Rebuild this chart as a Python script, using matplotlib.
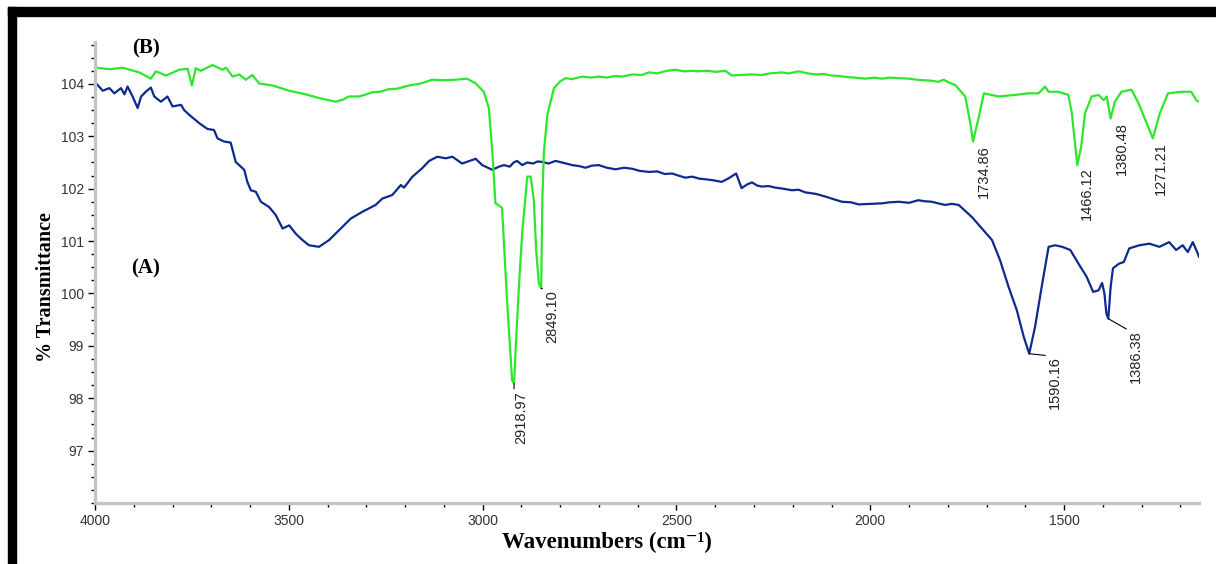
import matplotlib
matplotlib.use("Agg")
import matplotlib.pyplot as plt
from matplotlib.patches import Rectangle
from matplotlib.ticker import MultipleLocator

# sample (B): wavenumber / %T
wn_b = [4000, 3997, 3960, 3929, 3886, 3856, 3843, 3817, 3783, 3761, 3750, 3740,
        3727, 3697, 3671, 3662, 3645, 3628, 3611, 3594, 3577, 3542, 3499, 3456,
        3422, 3379, 3360, 3345, 3320, 3300, 3285, 3265, 3242, 3220, 3190, 3165,
        3150, 3130, 3100, 3070, 3040, 3018, 2997, 2984,
        2975, 2967, 2958, 2950, 2945, 2937, 2928, 2924, 2919, 2915, 2906, 2898,
        2885, 2876, 2868, 2862, 2855, 2849, 2846, 2842, 2833, 2816, 2800, 2786,
        2770, 2743, 2720, 2700, 2680, 2660, 2640, 2614, 2590, 2571, 2550, 2525,
        2503, 2480, 2460, 2443, 2420, 2400, 2374, 2357, 2340, 2305, 2280, 2260,
        2228, 2210, 2185, 2160, 2140, 2120, 2099, 2080, 2060, 2040, 2013, 1990,
        1970, 1950, 1927, 1900, 1880, 1860, 1841, 1825, 1811, 1795, 1781,
        1755, 1742, 1735, 1720, 1707, 1669, 1626, 1592,
        1566, 1549, 1540, 1515, 1489, 1480, 1471, 1466, 1456, 1446, 1429, 1411,
        1398, 1390, 1380, 1369, 1352, 1326, 1308, 1287, 1271, 1253, 1232, 1198,
        1172, 1159, 1152]
t_b = [104.30, 104.31, 104.28, 104.31, 104.22, 104.10, 104.24, 104.16, 104.27, 104.29, 103.97, 104.30,
       104.25, 104.36, 104.27, 104.31, 104.14, 104.18, 104.08, 104.17, 104.01, 103.97, 103.87, 103.80,
       103.73, 103.66, 103.70, 103.76, 103.76, 103.80, 103.84, 103.85, 103.90, 103.91, 103.97, 104.00,
       104.03, 104.08, 104.07, 104.08, 104.10, 104.01, 103.85, 103.54,
       102.70, 101.72, 101.68, 101.63, 100.96, 99.87, 98.79, 98.34, 98.28, 98.91, 100.19, 101.15,
       102.23, 102.23, 101.78, 100.83, 100.19, 100.10, 101.78, 102.70, 103.41, 103.92, 104.05, 104.11,
       104.09, 104.14, 104.12, 104.14, 104.12, 104.15, 104.14, 104.18, 104.17, 104.22, 104.20, 104.25,
       104.27, 104.24, 104.25, 104.24, 104.25, 104.23, 104.25, 104.16, 104.17, 104.18, 104.17, 104.20,
       104.22, 104.20, 104.24, 104.20, 104.18, 104.19, 104.16, 104.15, 104.13, 104.12, 104.10, 104.12,
       104.10, 104.12, 104.11, 104.10, 104.08, 104.07, 104.06, 104.04, 104.08, 104.02, 103.98,
       103.76, 103.25, 102.90, 103.37, 103.82, 103.76, 103.79, 103.82,
       103.82, 103.95, 103.85, 103.85, 103.79, 103.44, 102.80, 102.45, 102.80, 103.44, 103.76, 103.79,
       103.69, 103.76, 103.34, 103.66, 103.85, 103.89, 103.63, 103.25, 102.96, 103.44, 103.82, 103.85,
       103.85, 103.69, 103.66]

# sample (A)
wn_a = [4000, 3997, 3980, 3963, 3950, 3933, 3924, 3916, 3903, 3890, 3881, 3869,
        3856, 3847, 3830, 3813, 3800, 3778, 3770, 3757, 3731, 3710, 3693, 3684,
        3667, 3650, 3637, 3615, 3607, 3598, 3585, 3572, 3551, 3534, 3516, 3499,
        3482, 3465, 3448, 3422, 3396, 3370, 3340, 3310, 3276, 3259, 3233, 3211,
        3203, 3181, 3156, 3138, 3117, 3095, 3078, 3053, 3018, 3001, 2975, 2958,
        2945, 2930, 2920, 2911, 2898, 2885, 2870, 2858, 2846, 2830, 2812, 2795,
        2780, 2769, 2750, 2735, 2718, 2700, 2680, 2657, 2635, 2614, 2595, 2571,
        2550, 2530, 2511, 2495, 2477, 2460, 2440, 2425, 2405, 2383, 2365, 2346,
        2332, 2318, 2305, 2292, 2280, 2262, 2245, 2225, 2202, 2185, 2168, 2140,
        2116, 2095, 2073, 2050, 2030, 2000, 1970, 1950, 1927, 1900, 1876, 1860,
        1841, 1825, 1807, 1790, 1772, 1738, 1712, 1686, 1665,
        1643, 1622, 1604, 1590, 1575, 1558, 1540, 1523, 1505, 1484, 1463, 1442,
        1425, 1411, 1402, 1396, 1391, 1386, 1380, 1374, 1358, 1346, 1332, 1306,
        1280, 1254, 1229, 1211, 1194, 1181, 1168, 1155, 1152]
t_a = [104.00, 104.01, 103.87, 103.92, 103.82, 103.92, 103.80, 103.95, 103.76, 103.54, 103.76, 103.85,
       103.93, 103.76, 103.66, 103.76, 103.57, 103.60, 103.50, 103.41, 103.25, 103.14, 103.12, 102.96,
       102.90, 102.88, 102.51, 102.36, 102.13, 101.97, 101.94, 101.75, 101.65, 101.50, 101.24, 101.30,
       101.14, 101.02, 100.92, 100.89, 101.02, 101.21, 101.43, 101.56, 101.69, 101.81, 101.88, 102.07,
       102.02, 102.23, 102.39, 102.53, 102.61, 102.58, 102.61, 102.48, 102.57, 102.45, 102.36, 102.42,
       102.45, 102.42, 102.50, 102.53, 102.45, 102.50, 102.48, 102.52, 102.51, 102.48, 102.53, 102.50,
       102.47, 102.45, 102.43, 102.40, 102.44, 102.45, 102.40, 102.37, 102.40, 102.38, 102.34, 102.32,
       102.33, 102.28, 102.29, 102.25, 102.21, 102.23, 102.19, 102.18, 102.16, 102.13, 102.20, 102.29,
       102.01, 102.08, 102.12, 102.06, 102.04, 102.05, 102.02, 102.00, 101.97, 101.98, 101.93, 101.90,
       101.85, 101.80, 101.75, 101.74, 101.70, 101.71, 101.72, 101.74, 101.75, 101.73, 101.78, 101.76,
       101.75, 101.72, 101.69, 101.71, 101.69, 101.46, 101.24, 101.02, 100.63,
       100.12, 99.68, 99.17, 98.85, 99.36, 100.12, 100.89, 100.92, 100.89, 100.83, 100.57, 100.32,
       100.03, 100.06, 100.20, 100.00, 99.62, 99.52, 100.12, 100.48, 100.57, 100.60, 100.86, 100.92,
       100.95, 100.89, 100.98, 100.83, 100.92, 100.79, 100.98, 100.76, 100.70]

# labelled peaks
peaks_b = [(2918.97, 98.28), (2849.10, 100.10), (1734.86, 102.90),
           (1466.12, 102.45), (1380.48, 103.34), (1271.21, 102.96)]
peaks_a = [(1590.16, 98.85), (1386.38, 99.52)]
# text offsets in pixels (dx right, dy down) and whether a leader line is drawn
label_offsets = {"2918.97": (7, 8, True), "2849.10": (11, 2, True),
                 "1734.86": (11, 4, False), "1466.12": (10, 2, False),
                 "1380.48": (11, 4, False), "1271.21": (8, 4, False),
                 "1590.16": (26, 2, True), "1386.38": (28, 12, True)}

green = "#2ee62e"
navy = "#0d2b8e"
serif = ["Liberation Serif", "DejaVu Serif"]
sans = ["Liberation Sans", "DejaVu Sans"]

fig = plt.figure(figsize=(12.16, 5.64), dpi=100)
ax = fig.add_axes([95 / 1216, 1 - 503 / 564, (1199 - 95) / 1216, (503 - 42) / 564])

ax.plot(wn_a, t_a, color=navy, lw=1.6)
ax.plot(wn_b, t_b, color=green, lw=1.6)

ax.set_xlim(4000, 1152)
ax.set_ylim(96, 104.8)
ax.xaxis.set_major_locator(MultipleLocator(500))
ax.xaxis.set_minor_locator(MultipleLocator(100))
ax.yaxis.set_minor_locator(MultipleLocator(0.25))
ax.set_yticks(range(97, 105))

for s in ["top", "right"]:
    ax.spines[s].set_visible(False)
for s in ["left", "bottom"]:
    ax.spines[s].set_color("#c4c4c4")
    ax.spines[s].set_linewidth(2.4)

ax.tick_params(which="major", length=5, width=1, color="black", direction="out",
               labelsize=10, labelcolor="#333333", pad=3)
ax.tick_params(which="minor", length=3, width=1, color="black", direction="out")
for lbl in ax.get_xticklabels() + ax.get_yticklabels():
    lbl.set_family(sans)

ax.set_xlabel("Wavenumbers (cm\u207b\u00b9)", fontsize=16.5, fontweight="bold",
              family=serif)
ax.xaxis.set_label_coords(0.464, -0.062)
ax.set_ylabel("% Transmittance", fontsize=14.5, fontweight="bold", family=serif)
ax.yaxis.set_label_coords(-0.035, 0.469)

for (w, t) in peaks_b + peaks_a:
    txt = f"{w:.2f}"
    dx, dy, leader = label_offsets[txt]
    arrow = dict(arrowstyle="-", color="black", lw=0.8, shrinkA=0, shrinkB=0,
                 relpos=(0, 1)) if leader else None
    ax.annotate(txt, xy=(w, t), xytext=(dx * 0.72, -dy * 0.72), textcoords="offset points",
                rotation=90, ha="center", va="top", fontsize=10.5, color="#222222",
                family=sans, arrowprops=arrow)

ax.text(3868, 104.68, "(B)", fontsize=15, fontweight="bold", family=serif,
        ha="center", va="center")
ax.text(3870, 100.48, "(A)", fontsize=15, fontweight="bold", family=serif,
        ha="center", va="center")

# black frame on top and left
fig.patches.append(Rectangle((8 / 1216, 1 - 16 / 564), 1 - 8 / 1216, 9 / 564,
                             transform=fig.transFigure, color="black", zorder=5))
fig.patches.append(Rectangle((8 / 1216, 0), 8 / 1216, 1 - 7 / 564,
                             transform=fig.transFigure, color="black", zorder=5))

fig.savefig("out.png", dpi=100)
